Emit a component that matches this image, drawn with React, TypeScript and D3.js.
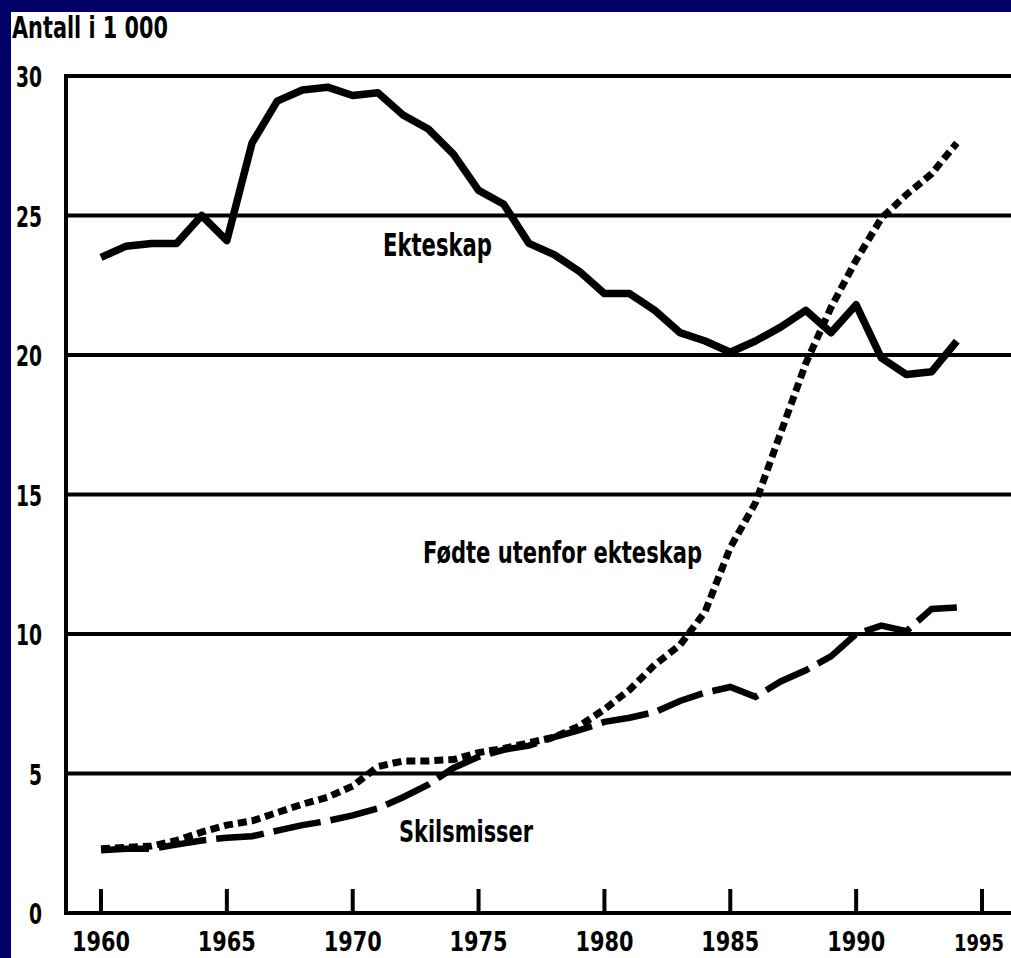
import React from "react";
import * as d3 from "d3";

const years = [1960,1961,1962,1963,1964,1965,1966,1967,1968,1969,1970,1971,1972,1973,1974,1975,1976,1977,1978,1979,1980,1981,1982,1983,1984,1985,1986,1987,1988,1989,1990,1991,1992,1993,1994];

const ekteskap = [23.5,23.9,24.0,24.0,25.0,24.1,27.6,29.1,29.5,29.6,29.3,29.4,28.6,28.1,27.2,25.9,25.4,24.0,23.6,23.0,22.2,22.2,21.6,20.8,20.5,20.1,20.5,21.0,21.6,20.8,21.8,19.9,19.3,19.4,20.5];

const fodte = [2.3,2.35,2.4,2.6,2.9,3.15,3.3,3.6,3.9,4.15,4.55,5.25,5.45,5.45,5.5,5.75,5.9,6.1,6.3,6.7,7.3,8.0,8.9,9.6,10.8,13.1,14.7,17.2,19.7,21.7,23.4,24.9,25.75,26.5,27.6];

const skilsmisser = [2.25,2.3,2.3,2.45,2.6,2.7,2.75,2.95,3.15,3.3,3.5,3.75,4.15,4.6,5.2,5.6,5.85,6.0,6.3,6.55,6.85,7.0,7.2,7.6,7.9,8.1,7.75,8.3,8.7,9.2,10.0,10.3,10.1,10.9,10.95];

const xTicks = [1960,1965,1970,1975,1980,1985,1990,1995];
const xTickLabels = ["1960","1965","1970","1975","1980","1985","1990","1995"];
const yTicks = [0,5,10,15,20,25,30];
const yTickLabels = ["0","5","10","15","20","25","30"];

const unitLabel = "Antall i 1 000";
const seriesLabels = ["Ekteskap","Fødte utenfor ekteskap","Skilsmisser"];

const W = 1011, H = 958;
const FONT = "'Liberation Sans Narrow', 'DejaVu Sans Condensed', 'Liberation Sans', sans-serif";

export default function App() {
  const x = d3.scaleLinear().domain([1960, 1995]).range([101, 982]);
  const y = d3.scaleLinear().domain([0, 30]).range([913, 76]);
  const line = (vals: number[]) =>
    d3.line<number>().x((_, i) => x(years[i])).y(d => y(d)).curve(d3.curveLinear)(vals) || "";

  return (
    <svg width={W} height={H} style={{ position: "absolute", left: 0, top: 0, background: "#fff" }}>
      <rect x={0} y={0} width={W} height={H} fill="#fff" />
      <rect x={0} y={0} width={W} height={12} fill="#000066" />
      <rect x={0} y={0} width={11} height={H} fill="#000066" />

      {/* gridlines */}
      {yTicks.map(t => (
        <line key={"g" + t} x1={64} x2={W} y1={y(t)} y2={y(t)} stroke="#000" strokeWidth={4} />
      ))}
      {/* left axis */}
      <line x1={66} x2={66} y1={74} y2={915} stroke="#000" strokeWidth={4} />
      {/* x ticks */}
      {xTicks.map(t => (
        <line key={"t" + t} x1={x(t)} x2={x(t)} y1={889} y2={913} stroke="#000" strokeWidth={4} />
      ))}

      {/* tick labels */}
      {xTicks.map((t, i) => {
        const last = i === xTicks.length - 1;
        return (
          <text key={"xl" + t} x={last ? 954 : x(t)} y={951} textAnchor={last ? "start" : "middle"}
            fontFamily={FONT} fontWeight="bold" fontSize={last ? 23 : 26} textLength={last ? 50 : 58}
            lengthAdjust="spacingAndGlyphs">{xTickLabels[i]}</text>
        );
      })}
      {yTicks.map((t, i) => (
        <text key={"yl" + t} x={42} y={y(t) + 11} textAnchor="end" fontFamily={FONT} fontWeight="bold"
          fontSize={28} textLength={yTickLabels[i].length === 1 ? 13 : 26} lengthAdjust="spacingAndGlyphs">{yTickLabels[i]}</text>
      ))}

      <text x={12} y={38} fontFamily={FONT} fontWeight="bold" fontSize={30} textLength={156}
        lengthAdjust="spacingAndGlyphs">{unitLabel}</text>

      {/* series */}
      <path d={line(skilsmisser)} fill="none" stroke="#000" strokeWidth={6.5} strokeDasharray="48 10" />
      <path d={line(fodte)} fill="none" stroke="#000" strokeWidth={7} strokeDasharray="9 5" />
      <path d={line(ekteskap)} fill="none" stroke="#000" strokeWidth={7.5} strokeLinejoin="round" />

      {/* series labels */}
      <text x={383} y={256} fontFamily={FONT} fontWeight="bold" fontSize={32} textLength={109}
        lengthAdjust="spacingAndGlyphs">{seriesLabels[0]}</text>
      <text x={423} y={563} fontFamily={FONT} fontWeight="bold" fontSize={31} textLength={279}
        lengthAdjust="spacingAndGlyphs">{seriesLabels[1]}</text>
      <text x={399} y={842} fontFamily={FONT} fontWeight="bold" fontSize={31} textLength={134}
        lengthAdjust="spacingAndGlyphs">{seriesLabels[2]}</text>
    </svg>
  );
}
